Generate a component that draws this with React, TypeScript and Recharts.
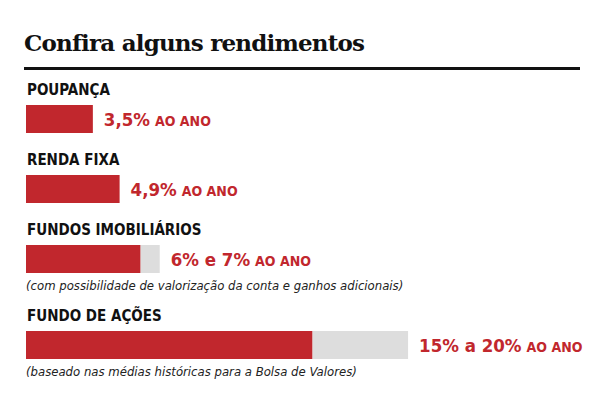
import React from "react";
import { BarChart, Bar, XAxis, YAxis, LabelList } from "recharts";

const categories = ["POUPANÇA", "RENDA FIXA", "FUNDOS IMOBILIÁRIOS", "FUNDO DE AÇÕES"];
const lowValues = [3.5, 4.9, 6, 15];
const highValues = [3.5, 4.9, 7, 20];
const valueLabels = ["3,5%", "4,9%", "6% e 7%", "15% a 20%"];
const unitLabel = "AO ANO";
const notes = [
  "",
  "",
  "(com possibilidade de valorização da conta e ganhos adicionais)",
  "(baseado nas médias históricas para a Bolsa de Valores)",
];
const xDomain = [0, 29];

const RED = "#c1272d";
const GREY = "#dddddd";
const SANS = "'Liberation Sans Narrow', 'DejaVu Sans Condensed', 'Roboto', sans-serif";

// layout (top of each bar, in page px)
const barTops = [105, 175, 245, 331];
const BAR_H = 28;

const makeLabel = (i: number) => (props: any) => {
  const { x, y, width, height } = props;
  // end of the full range (high value) on the same linear scale from 0
  const endX = Number(x) + Number(width) * (highValues[i] / lowValues[i]);
  const tx = endX + 11;
  const ty = Number(y) + Number(height) / 2 + 6.5;
  return (
    <text x={tx} y={ty} fill={RED} fontFamily={SANS} fontWeight={700}>
      <tspan fontSize={18.5}>{valueLabels[i]}</tspan>
      <tspan fontSize={14} dx={5}>{unitLabel}</tspan>
    </text>
  );
};

function Row({ i }: { i: number }) {
  const data = [
    { name: categories[i], low: lowValues[i], extra: highValues[i] - lowValues[i] },
  ];
  return (
    <>
      <div
        style={{
          position: "absolute",
          left: 27,
          top: barTops[i] - 8 - 14,
          fontFamily: SANS,
          fontWeight: 700,
          fontSize: 15,
          lineHeight: "14px",
          color: "#111",
          whiteSpace: "nowrap",
        }}
      >
        {categories[i]}
      </div>
      <div style={{ position: "absolute", left: 0, top: barTops[i] }}>
        <BarChart
          width={600}
          height={BAR_H}
          data={data}
          layout="vertical"
          margin={{ top: 0, right: 20, bottom: 0, left: 26 }}
          barCategoryGap={0}
        >
          <XAxis type="number" domain={xDomain} hide />
          <YAxis type="category" dataKey="name" hide />
          <Bar dataKey="low" stackId="a" fill={RED} isAnimationActive={false}>
            <LabelList dataKey="low" content={makeLabel(i)} />
          </Bar>
          <Bar dataKey="extra" stackId="a" fill={GREY} isAnimationActive={false} />
        </BarChart>
      </div>
      {notes[i] ? (
        <div
          style={{
            position: "absolute",
            left: 26,
            top: barTops[i] + BAR_H + 6,
            fontFamily: SANS,
            fontStyle: "italic",
            fontSize: 13,
            lineHeight: "14px",
            color: "#222",
            whiteSpace: "nowrap",
          }}
        >
          {notes[i]}
        </div>
      ) : null}
    </>
  );
}

export default function App() {
  return (
    <div
      style={{
        position: "absolute",
        left: 0,
        top: 0,
        width: 600,
        height: 407,
        background: "#fff",
        overflow: "hidden",
      }}
    >
      <div
        style={{
          position: "absolute",
          left: 24,
          top: 28,
          fontFamily: "'DejaVu Serif', serif",
          fontWeight: 700,
          fontSize: 23,
          lineHeight: "30px",
          letterSpacing: -0.8,
          color: "#111",
          whiteSpace: "nowrap",
        }}
      >
        Confira alguns rendimentos
      </div>
      <div
        style={{
          position: "absolute",
          left: 24,
          top: 67,
          width: 556,
          height: 3,
          background: "#111",
        }}
      />
      {categories.map((_, i) => (
        <Row key={i} i={i} />
      ))}
    </div>
  );
}
